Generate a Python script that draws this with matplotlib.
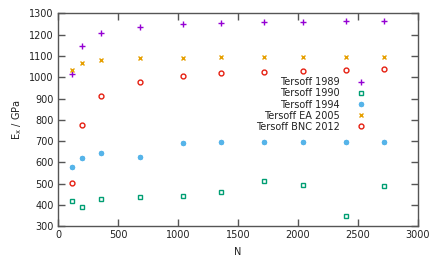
import numpy as np
import matplotlib
matplotlib.use("Agg")
import matplotlib.pyplot as plt

# system sizes
N = [119, 200, 361, 681, 1039, 1358, 1719, 2039, 2397, 2717]

# Young's modulus E_x / GPa per potential
tersoff_1989 = [1015, 1148, 1207, 1238, 1250, 1256, 1258, 1259, 1262, 1262]
tersoff_1990 = [417, 389, 428, 439, 441, 462, 513, 494, 347, 491]
tersoff_1994 = [580, 622, 644, 625, 692, 696, 696, 697, 697, 697]
tersoff_ea_2005 = [1035, 1065, 1081, 1089, 1092, 1093, 1095, 1095, 1095, 1095]
tersoff_bnc_2012 = [502, 776, 913, 976, 1004, 1018, 1026, 1031, 1035, 1037]

series = [
    ("Tersoff 1989", tersoff_1989, "+", "#9400d3", 4.0),
    ("Tersoff 1990", tersoff_1990, "s", "#009e73", 3.3),
    ("Tersoff 1994", tersoff_1994, (8, 2, 0), "#56b4e9", 3.8),
    ("Tersoff EA 2005", tersoff_ea_2005, "x", "#e69f00", 3.0),
    ("Tersoff BNC 2012", tersoff_bnc_2012, "o", "#e51e10", 3.5),
]

plt.rcParams["font.family"] = ["DejaVu Sans"]
fig = plt.figure(figsize=(4.36, 2.62), dpi=100)
ax = fig.add_axes([58 / 436, 1 - 226.3 / 262, 360 / 436, 213 / 262])

for label, vals, m, c, ms in series:
    ax.plot(N, vals, linestyle="none", marker=m, color=c, markersize=ms,
            markerfacecolor="none", markeredgewidth=1.0, label=label)

ax.set_xlim(0, 3000)
ax.set_ylim(300, 1300)
ax.set_xticks(np.arange(0, 3001, 500))
ax.set_yticks(np.arange(300, 1301, 100))
ax.tick_params(direction="in", top=True, right=True, length=5, width=1,
               color="#555555", labelsize=7, labelcolor="#222222", pad=3)
for sp in ax.spines.values():
    sp.set_color("#555555")
    sp.set_linewidth(1.0)
ax.set_xlabel("N", fontsize=7, color="#222222", labelpad=5)
ax.set_ylabel(r"E$_\mathregular{x}$ / GPa", fontsize=7, color="#222222", labelpad=4)

leg = ax.legend(loc="upper right", bbox_to_anchor=(0.855, 0.70), frameon=False,
                fontsize=7, markerfirst=False, handlelength=1.0, handletextpad=1.65,
                labelspacing=0.12, borderpad=0, borderaxespad=0)
for t in leg.get_texts():
    t.set_ha("right")
    t.set_color("#222222")
leg._legend_box.align = "right"

fig.savefig("out.png", dpi=100)
